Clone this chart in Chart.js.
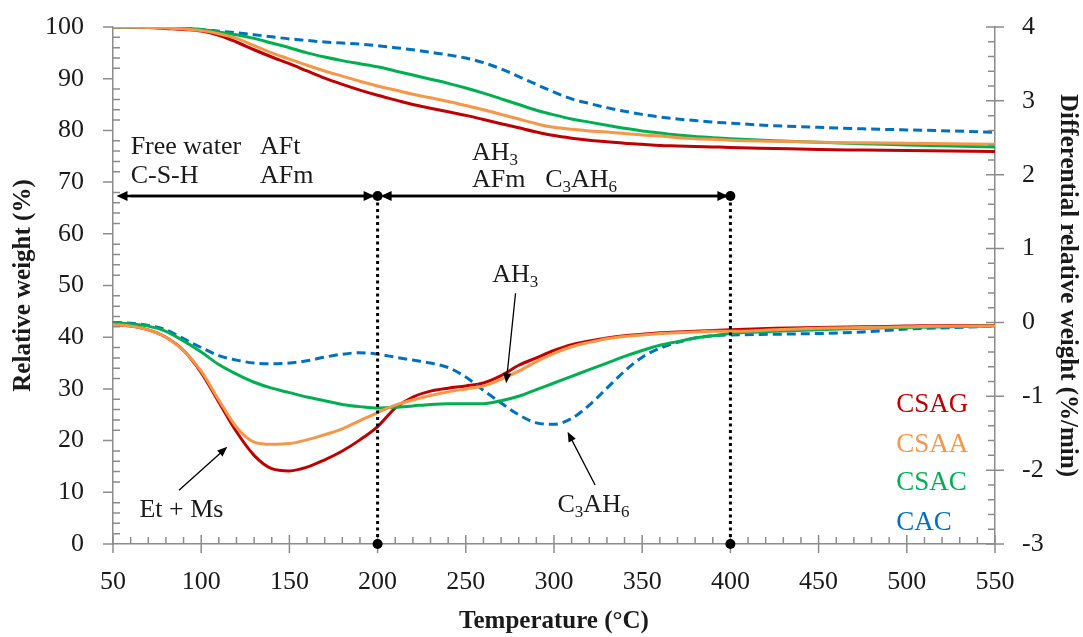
<!DOCTYPE html>
<html>
<head>
<meta charset="utf-8">
<script src="https://cdn.jsdelivr.net/npm/chart.js@4.4.1/dist/chart.umd.min.js"></script>
<style>
  html, body { margin: 0; padding: 0; background: #fff; }
</style>
</head>
<body>
<canvas id="tga" width="1083" height="637"></canvas>
<script>
// temperature steps (°C)
const temps = [50, 60, 70, 80, 90, 100, 110, 120, 130, 140, 150, 160, 170, 180, 190, 200,
  210, 220, 230, 240, 250, 260, 270, 280, 290, 300, 310, 320, 330, 340, 350, 360, 370, 380,
  390, 400, 425, 450, 475, 500, 525, 550];

// relative weight (%) - left axis
const tgCSAG = [100, 100, 99.9, 99.7, 99.5, 99.2, 98.4, 97.1, 95.6, 94.2, 92.9, 91.5, 90.1, 88.9, 87.8, 86.8,
  85.9, 85.0, 84.3, 83.6, 82.9, 82.1, 81.3, 80.5, 79.7, 79.0, 78.5, 78.1, 77.8, 77.5, 77.3, 77.1, 77.0, 76.9,
  76.8, 76.7, 76.5, 76.3, 76.2, 76.1, 76.0, 75.9];
const tgCSAA = [100, 100, 99.9, 99.8, 99.6, 99.3, 98.7, 97.8, 96.4, 95.0, 93.8, 92.6, 91.5, 90.5, 89.5, 88.6,
  87.8, 87.0, 86.3, 85.6, 84.8, 84.0, 83.1, 82.2, 81.3, 80.6, 80.2, 79.9, 79.7, 79.4, 79.1, 78.9, 78.6, 78.4,
  78.3, 78.1, 77.9, 77.7, 77.6, 77.5, 77.4, 77.3];
const tgCSAC = [100, 100, 100, 99.9, 99.8, 99.5, 99.0, 98.5, 97.8, 96.9, 96.0, 95.0, 94.2, 93.5, 92.9, 92.3,
  91.5, 90.7, 89.9, 89.1, 88.2, 87.2, 86.1, 85.0, 83.9, 83.0, 82.2, 81.6, 81.0, 80.4, 79.9, 79.5, 79.1, 78.8,
  78.6, 78.4, 78.0, 77.7, 77.4, 77.2, 77.0, 76.8];
const tgCAC = [100, 100, 100, 99.9, 99.7, 99.5, 99.2, 98.9, 98.5, 98.1, 97.7, 97.4, 97.1, 96.9, 96.7, 96.4,
  96.0, 95.6, 95.1, 94.6, 94.0, 93.1, 91.9, 90.4, 88.9, 87.4, 86.1, 85.2, 84.4, 83.7, 83.1, 82.6, 82.2, 81.9,
  81.6, 81.4, 80.9, 80.6, 80.3, 80.1, 79.9, 79.6];

// differential relative weight (%/min) - right axis
const dtgCSAG = [-0.03, -0.05, -0.10, -0.20, -0.38, -0.68, -1.08, -1.48, -1.80, -1.98, -2.01, -1.96, -1.86, -1.74, -1.59, -1.41,
  -1.16, -1.01, -0.93, -0.89, -0.86, -0.82, -0.72, -0.58, -0.48, -0.38, -0.30, -0.25, -0.21, -0.18, -0.16, -0.14, -0.13, -0.12,
  -0.11, -0.10, -0.08, -0.07, -0.06, -0.05, -0.04, -0.04];
const dtgCSAA = [-0.03, -0.05, -0.10, -0.20, -0.38, -0.66, -1.05, -1.42, -1.62, -1.65, -1.64, -1.59, -1.52, -1.44, -1.33, -1.22,
  -1.12, -1.05, -0.99, -0.94, -0.90, -0.86, -0.77, -0.66, -0.53, -0.42, -0.33, -0.27, -0.22, -0.19, -0.17, -0.15, -0.14, -0.13,
  -0.12, -0.12, -0.10, -0.08, -0.07, -0.06, -0.05, -0.05];
const dtgCSAC = [0, -0.02, -0.05, -0.12, -0.25, -0.40, -0.57, -0.70, -0.81, -0.89, -0.95, -1.01, -1.06, -1.11, -1.14, -1.16,
  -1.15, -1.13, -1.11, -1.10, -1.10, -1.10, -1.06, -1.00, -0.91, -0.82, -0.73, -0.64, -0.55, -0.46, -0.38, -0.31, -0.26, -0.21,
  -0.18, -0.15, -0.12, -0.10, -0.08, -0.07, -0.06, -0.05];
const dtgCAC = [0, -0.01, -0.04, -0.10, -0.22, -0.34, -0.45, -0.51, -0.55, -0.56, -0.55, -0.52, -0.47, -0.43, -0.41, -0.43,
  -0.47, -0.51, -0.55, -0.61, -0.74, -0.92, -1.09, -1.25, -1.36, -1.38, -1.30, -1.12, -0.89, -0.66, -0.47, -0.35, -0.27, -0.21,
  -0.18, -0.17, -0.16, -0.15, -0.13, -0.09, -0.07, -0.05];

const names = ['CSAG', 'CSAA', 'CSAC', 'CAC'];
const colors = ['#c00000', '#f79646', '#00b050', '#0070c0'];

const serif = "'Liberation Serif', 'Times New Roman', serif";
const ink = '#1a1a1a';
const axisGrey = '#8c8c8c';

const pts = arr => temps.map((t, i) => ({ x: t, y: arr[i] }));

const tg = [tgCSAG, tgCSAA, tgCSAC, tgCAC];
const dtg = [dtgCSAG, dtgCSAA, dtgCSAC, dtgCAC];
const datasets = [];
[tg, dtg].forEach((group, g) => {
  group.forEach((arr, i) => {
    datasets.push({
      label: names[i] + (g ? ' DTG' : ' TG'),
      data: pts(arr),
      yAxisID: g ? 'y2' : 'y',
      borderColor: colors[i],
      borderWidth: 3,
      borderDash: i === 3 ? [9, 5] : [],
      pointRadius: 0,
      cubicInterpolationMode: 'monotone',
      fill: false
    });
  });
});
// draw red last so it sits on top like the original
datasets.sort((a, b) => (a.borderColor === '#c00000') - (b.borderColor === '#c00000'));

function richText(ctx, parts, x, y, size) {
  let cx = x;
  parts.forEach(([s, sub]) => {
    ctx.font = (sub ? Math.round(size * 0.66) : size) + 'px ' + serif;
    ctx.fillText(s, cx, sub ? y + size * 0.3 : y);
    cx += ctx.measureText(s).width;
  });
}

function arrowTo(ctx, x1, y1, x2, y2, len, half) {
  const ang = Math.atan2(y2 - y1, x2 - x1);
  ctx.beginPath();
  ctx.moveTo(x1, y1);
  ctx.lineTo(x2 - Math.cos(ang) * len * 0.8, y2 - Math.sin(ang) * len * 0.8);
  ctx.stroke();
  ctx.beginPath();
  ctx.moveTo(x2, y2);
  ctx.lineTo(x2 - Math.cos(ang) * len - Math.sin(ang) * half, y2 - Math.sin(ang) * len + Math.cos(ang) * half);
  ctx.lineTo(x2 - Math.cos(ang) * len + Math.sin(ang) * half, y2 - Math.sin(ang) * len - Math.cos(ang) * half);
  ctx.closePath();
  ctx.fill();
}

const C3AH6 = [['C'], ['3', 1], ['AH'], ['6', 1]];
const AH3 = [['AH'], ['3', 1]];
const notes = [
  { t: 60, v: 76.8, parts: [['Free water']] },
  { t: 60, v: 71.2, parts: [['C-S-H']] },
  { t: 133.3, v: 76.8, parts: [['AFt']] },
  { t: 133.3, v: 71.2, parts: [['AFm']] },
  { t: 253.5, v: 75.6, parts: AH3 },
  { t: 253.5, v: 70.4, parts: [['AFm']] },
  { t: 295, v: 70.4, parts: C3AH6 },
  { t: 265, v: 52, parts: AH3 },
  { t: 65, v: 6.6, parts: [['Et + Ms']] },
  { t: 302, v: 7.5, parts: C3AH6 }
];
const pointers = [
  [278.2, 48.5, 272.9, 31.1],
  [87.4, 10.4, 114.8, 18.8],
  [323.3, 11.4, 307.7, 21.7]
];
const legendRows = [26.9, 19.1, 11.8, 4.1];

const decor = {
  id: 'decor',
  afterDraw(chart) {
    const { ctx, chartArea: a, scales: { x, y, y2 } } = chart;
    ctx.save();

    // tick marks, major and minor
    ctx.strokeStyle = axisGrey;
    ctx.lineWidth = 1.5;
    ctx.beginPath();
    for (let t = 50; t <= 550; t += 10) {
      const px = x.getPixelForValue(t);
      if (t % 50 === 0) { ctx.moveTo(px, a.bottom - 9); ctx.lineTo(px, a.bottom + 9); }
      else { ctx.moveTo(px, a.bottom - 7); ctx.lineTo(px, a.bottom); }
    }
    for (let v = 0; v <= 100; v += 2) {
      const py = y.getPixelForValue(v);
      if (v % 10 === 0) { ctx.moveTo(a.left - 10, py); ctx.lineTo(a.left, py); }
      else { ctx.moveTo(a.left, py); ctx.lineTo(a.left + 7, py); }
    }
    for (let k = -15; k <= 20; k++) {
      const py = y2.getPixelForValue(k / 5);
      if (k % 5 === 0) { ctx.moveTo(a.right - 9, py); ctx.lineTo(a.right + 9, py); }
      else { ctx.moveTo(a.right - 7, py); ctx.lineTo(a.right, py); }
    }
    ctx.stroke();

    // range arrows and dotted markers
    ctx.strokeStyle = '#000';
    ctx.fillStyle = '#000';
    const ay = y.getPixelForValue(67.3);
    const x200 = x.getPixelForValue(200), x400 = x.getPixelForValue(400);
    ctx.lineWidth = 2.5;
    arrowTo(ctx, x200 - 4, ay, x.getPixelForValue(52), ay, 11, 5);
    arrowTo(ctx, x.getPixelForValue(60), ay, x200 - 3, ay, 11, 5);
    arrowTo(ctx, x400 - 4, ay, x200 + 3, ay, 11, 5);
    arrowTo(ctx, x200 + 10, ay, x400 - 2, ay, 11, 5);
    ctx.lineWidth = 3;
    ctx.setLineDash([3, 3.5]);
    ctx.beginPath();
    [x200, x400].forEach(px => { ctx.moveTo(px, ay); ctx.lineTo(px, a.bottom); });
    ctx.stroke();
    ctx.setLineDash([]);
    [x200, x400].forEach(px => {
      [ay, a.bottom].forEach(py => {
        ctx.beginPath(); ctx.arc(px, py, 5, 0, Math.PI * 2); ctx.fill();
      });
    });

    // thin pointer arrows
    ctx.lineWidth = 1.3;
    pointers.forEach(([t1, v1, t2, v2]) => {
      arrowTo(ctx, x.getPixelForValue(t1), y.getPixelForValue(v1), x.getPixelForValue(t2), y.getPixelForValue(v2), 10, 4);
    });

    // labels
    ctx.fillStyle = ink;
    ctx.textBaseline = 'middle';
    ctx.textAlign = 'left';
    notes.forEach(n => richText(ctx, n.parts, x.getPixelForValue(n.t), y.getPixelForValue(n.v), 26));

    // coloured series names
    ctx.font = '27px ' + serif;
    names.forEach((nm, i) => {
      ctx.fillStyle = colors[i];
      ctx.fillText(nm, x.getPixelForValue(494), y.getPixelForValue(legendRows[i]));
    });
    ctx.restore();
  }
};

Chart.defaults.font.family = serif;
Chart.defaults.color = ink;

const fitY = w => s => { s.width = w; s.paddingTop = 0; s.paddingBottom = 0; };

new Chart(document.getElementById('tga'), {
  type: 'line',
  data: { datasets },
  options: {
    responsive: false,
    animation: false,
    events: [],
    layout: { padding: { top: 27, left: 0, right: 0, bottom: 0 } },
    plugins: { legend: { display: false }, tooltip: { enabled: false } },
    scales: {
      x: {
        type: 'linear', min: 50, max: 550,
        afterFit: s => { s.height = 93; s.paddingLeft = 0; s.paddingRight = 0; },
        ticks: { stepSize: 50, padding: 23, font: { size: 26 }, color: ink },
        grid: { drawOnChartArea: false, drawTicks: false },
        border: { color: axisGrey, width: 1.5 },
        title: { display: true, text: 'Temperature (°C)', font: { size: 25, weight: 'bold' }, color: ink, padding: { bottom: 0, top: 0 } }
      },
      y: {
        position: 'left', min: 0, max: 100,
        afterFit: fitY(113),
        ticks: { stepSize: 10, padding: 29, font: { size: 26 }, color: ink },
        grid: { drawOnChartArea: false, drawTicks: false },
        border: { color: axisGrey, width: 1.5 },
        title: { display: true, text: 'Relative weight (%)', font: { size: 25, weight: 'bold' }, color: ink, padding: { top: 9, bottom: 0 } }
      },
      y2: {
        position: 'right', min: -3, max: 4,
        afterFit: fitY(88),
        ticks: { stepSize: 1, padding: 27, font: { size: 26 }, color: ink },
        grid: { drawOnChartArea: false, drawTicks: false },
        border: { color: axisGrey, width: 1.5 },
        title: { display: true, text: 'Differential relative weight (%/min)', font: { size: 25, weight: 'bold' }, color: ink, padding: { top: 1, bottom: 0 } }
      }
    }
  },
  plugins: [decor]
});
</script>
</body>
</html>
